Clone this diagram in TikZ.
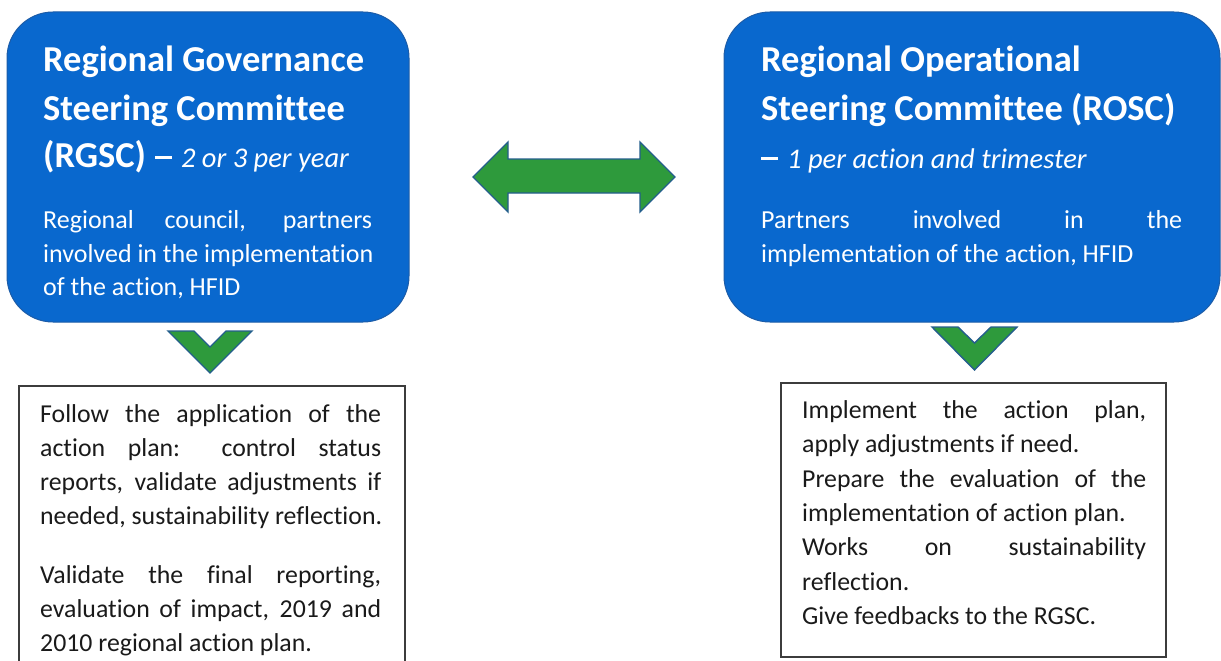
\documentclass[tikz,border=0pt]{standalone}
\usepackage{fontspec}
\setmainfont[Ligatures=NoCommon]{Carlito}
\definecolor{boxblue}{HTML}{0968CE}
\definecolor{boxedge}{HTML}{1C5CA8}
\definecolor{arrgreen}{HTML}{2E9A3C}
\definecolor{arredge}{HTML}{245E8C}
\definecolor{ink}{HTML}{1A1A1A}
\newcommand{\bigdash}{\rule[7.8pt]{17pt}{3.4pt}}
\begin{document}
\begin{tikzpicture}[x=1pt,y=-1pt,
  bluebox/.style={fill=boxblue,draw=boxedge,line width=1pt,rounded corners=46pt},
  plainbox/.style={draw=ink!85,line width=1.3pt,fill=white},
  greenshape/.style={fill=arrgreen,draw=arredge,line width=1.4pt,line join=miter},
  hd/.style={anchor=base west,inner sep=0pt,text=white,font=\fontsize{36.5}{42}\selectfont\bfseries},
  bw/.style={anchor=base west,inner sep=0pt,text=white,font=\fontsize{26}{30}\selectfont},
  bk/.style={anchor=base west,inner sep=0pt,text=ink,font=\fontsize{25.8}{30}\selectfont}]
\useasboundingbox (0,0) rectangle (1221,661);
\clip (0,0) rectangle (1221,661);
\fill[white] (0,0) rectangle (1221,661);

% blue boxes
\path[bluebox] (7,12) rectangle (409,322);
\path[bluebox] (724,12) rectangle (1220,322);

% double arrow
\path[greenshape] (473,177) -- (508,142) -- (508,159) -- (640,159) -- (640,142)
  -- (675,177) -- (640,212) -- (640,193) -- (508,193) -- (508,212) -- cycle;

% chevrons
\path[greenshape] (168,331) -- (194,331) -- (210,347) -- (226,331) -- (252,331) -- (210,373) -- cycle;
\path[greenshape] (932,327) -- (958,327) -- (974.5,343) -- (991,327) -- (1017,327) -- (974.5,370) -- cycle;

% text boxes
\path[plainbox] (19,386) rectangle (405,680);
\path[plainbox] (781,383) rectangle (1166,657);

% left blue text
\node[hd] (lh1) at (43,72) {Regional Governance};
\node[hd] (lh2) at (43,120) {Steering Committee};
\node[hd] (lh3) at (43,167) {(RGSC)\hspace{9pt}\bigdash\hspace{9pt}{\mdseries\itshape\fontsize{28.5}{30}\selectfont 2 or 3 per year}};
\node[bw] (lb1) at (43,228) {\makebox[329pt][s]{Regional council, partners}};
\node[bw] (lb2) at (43,262) {involved in the implementation};
\node[bw] (lb3) at (43,295) {of the action, HFID};

% right blue text
\node[hd] (rh1) at (761,72) {Regional Operational};
\node[hd] (rh2) at (761,120) {Steering Committee (ROSC)};
\node[hd] (rh3) at (761,168) {\bigdash\hspace{9pt}{\mdseries\itshape\fontsize{28.5}{30}\selectfont 1 per action and trimester}};
\node[bw] (rb1) at (761,228) {\makebox[421pt][s]{Partners involved in the}};
\node[bw] (rb2) at (761,262) {implementation of the action, HFID};

% left text box
\node[bk] (lt1) at (40,422) {\makebox[341pt][s]{Follow the application of the}};
\node[bk] (lt2) at (40,456) {\makebox[341pt][s]{action plan: control status}};
\node[bk] (lt3) at (40,490) {\makebox[341pt][s]{reports, validate adjustments if}};
\node[bk] (lt4) at (40,524) {needed, sustainability reflection.};
\node[bk] (lt5) at (40,583) {\makebox[341pt][s]{Validate the final reporting,}};
\node[bk] (lt6) at (40,617) {\makebox[341pt][s]{evaluation of impact, 2019 and}};
\node[bk] (lt7) at (40,651) {2010 regional action plan.};

% right text box
\node[bk] (rt1) at (802,418) {\makebox[344pt][s]{Implement the action plan,}};
\node[bk] (rt2) at (802,452) {apply adjustments if need.};
\node[bk] (rt3) at (802,487) {\makebox[344pt][s]{Prepare the evaluation of the}};
\node[bk] (rt4) at (802,521) {implementation of action plan.};
\node[bk] (rt5) at (802,555) {\makebox[344pt][s]{Works on sustainability}};
\node[bk] (rt6) at (802,590) {reflection.};
\node[bk] (rt7) at (802,624) {Give feedbacks to the RGSC.};
\end{tikzpicture}
\end{document}
